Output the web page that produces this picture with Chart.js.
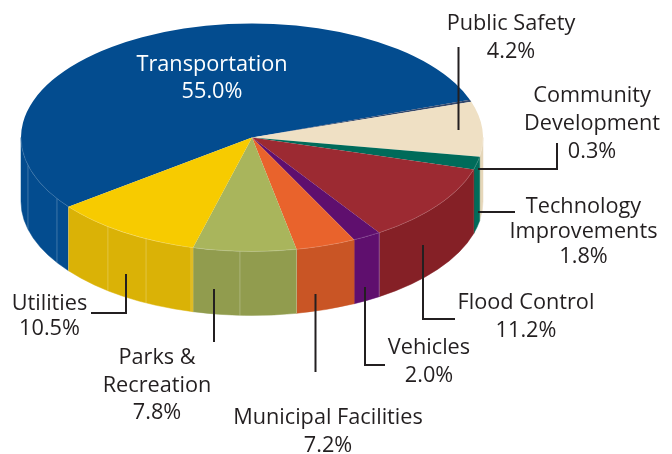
<!DOCTYPE html>
<html><head><meta charset="utf-8">
<style>html,body{margin:0;padding:0;background:#fff}canvas{display:block}</style>
<script src="https://cdn.jsdelivr.net/npm/chart.js@4"></script>
</head><body><canvas id="c" width="672" height="454"></canvas>
<script>
// Slices in clockwise order, starting at Transportation
const categories = ["Transportation","Sliver","Cream","Teal","Red","Purple","Orange","Olive","Yellow"];
const sliceValues = [55.0,0.3,7.8,1.8,11.2,2.0,4.2,7.2,10.5];
const topColors  = ["#034c8f","#34486b","#efe0c4","#006b5a","#9c2a32","#5f0f6e","#e9632c","#a9b55c","#f7cb00"];
const sideColors = ["#034c8f","#34486b","#e6d7ba","#006b5a","#852026","#5f0f6e","#c95525","#919c4e","#dab206"];
// Printed callouts
const calloutLines = [
  ["Transportation","55.0%"],["Public Safety","4.2%"],["Community","Development","0.3%"],
  ["Technology","Improvements","1.8%"],["Flood Control","11.2%"],["Vehicles","2.0%"],
  ["Municipal Facilities","7.2%"],["Parks &","Recreation","7.8%"],["Utilities","10.5%"]];
const calloutColors = ["#ffffff","#231f20","#231f20","#231f20","#231f20","#231f20","#231f20","#231f20","#231f20"];
// Layout (not data)
const calloutCentreX = [212,511,592,583.5,526,429,328,157,49.5];
const calloutRowsY = [[65,92],[24,52],[96,124,152],[207,232,257],[303,331],[348,376],[418,446],[358,386,413],[304,329]];
const leaders = [
  [[458.5,47],[458.5,130]],
  [[557,143],[557,169],[478,169]],
  [[478,212],[515,212]],
  [[423,245],[423,319],[455,319]],
  [[365,287],[365,365],[385,365]],
  [[315.5,294],[315.5,372]],
  [[214,289],[214,342]],
  [[126,274],[126,313],[91,313]]];
const seamAngles = [165.9,147.6,142.6,128.6,117.3,105.3,104.8,93,78.9,56.6];
const CX=252, CY=137.5, RX=231, RY=114, DEPTH=64, FONT='21.7px "Open Sans"';

const pie3d = {
  id:'pie3d',
  beforeDatasetDraw(chart,args){
    const ctx=chart.ctx, arcs=chart.getDatasetMeta(0).data, k=RY/RX;
    const cx=arcs[0].x, cy=arcs[0].y, rx=arcs[0].outerRadius, ry=rx*k;
    ctx.save();
    arcs.forEach((el,i)=>{
      for(const off of [-2*Math.PI,0,2*Math.PI]){
        const a0=Math.max(el.startAngle+off,0), a1=Math.min(el.endAngle+off,Math.PI);
        if(a1<=a0) continue;
        ctx.beginPath();
        ctx.ellipse(cx,cy,rx,ry,0,a0,a1);
        ctx.ellipse(cx,cy+DEPTH,rx,ry,0,a1,a0,true);
        ctx.closePath();
        ctx.fillStyle=sideColors[i];
        ctx.strokeStyle=sideColors[i];
        ctx.lineWidth=.5;
        ctx.fill();ctx.stroke();
      }
    });
    ctx.lineWidth=.8;
    ctx.strokeStyle='rgba(255,255,255,.3)';
    seamAngles.forEach(d=>{
      const t=d*Math.PI/180,x=cx+rx*Math.cos(t),y=cy+ry*Math.sin(t);
      ctx.beginPath();ctx.moveTo(x,y);ctx.lineTo(x,y+DEPTH);ctx.stroke();
    });
    ctx.restore();
    ctx.save();
    ctx.translate(cx,cy);ctx.scale(1,k);ctx.translate(-cx,-cy);
  },
  afterDatasetDraw(chart){
    const ctx=chart.ctx;
    ctx.restore();
    const el=chart.getDatasetMeta(0).data[0];
    ctx.save();
    ctx.strokeStyle='rgba(255,255,255,.22)';ctx.lineWidth=.7;
    ctx.beginPath();ctx.ellipse(el.x,el.y,el.outerRadius,el.outerRadius*RY/RX,0,0,Math.PI);ctx.stroke();
    ctx.restore();
  },
  afterDraw(chart){
    const ctx=chart.ctx;
    ctx.save();
    ctx.strokeStyle='#231f20';ctx.lineWidth=2;ctx.lineJoin='miter';
    leaders.forEach(p=>{
      ctx.beginPath();
      p.forEach((q,i)=>i?ctx.lineTo(q[0],q[1]):ctx.moveTo(q[0],q[1]));
      ctx.stroke();
    });
    ctx.font=FONT;ctx.textAlign='center';ctx.textBaseline='middle';
    calloutLines.forEach((lines,i)=>{
      ctx.fillStyle=calloutColors[i];
      lines.forEach((t,j)=>ctx.fillText(t,calloutCentreX[i],calloutRowsY[i][j]));
    });
    ctx.restore();
  }
};

new Chart(document.getElementById('c'),{
  type:'pie',
  data:{labels:categories,datasets:[{data:sliceValues,backgroundColor:topColors,borderWidth:0,clip:false}]},
  options:{
    responsive:false,animation:false,
    rotation:232.6,radius:RX,
    layout:{padding:{right:672-2*CX,bottom:454-2*CY}},
    plugins:{legend:{display:false},tooltip:{enabled:false}}
  },
  plugins:[pie3d]
});
</script></body></html>
